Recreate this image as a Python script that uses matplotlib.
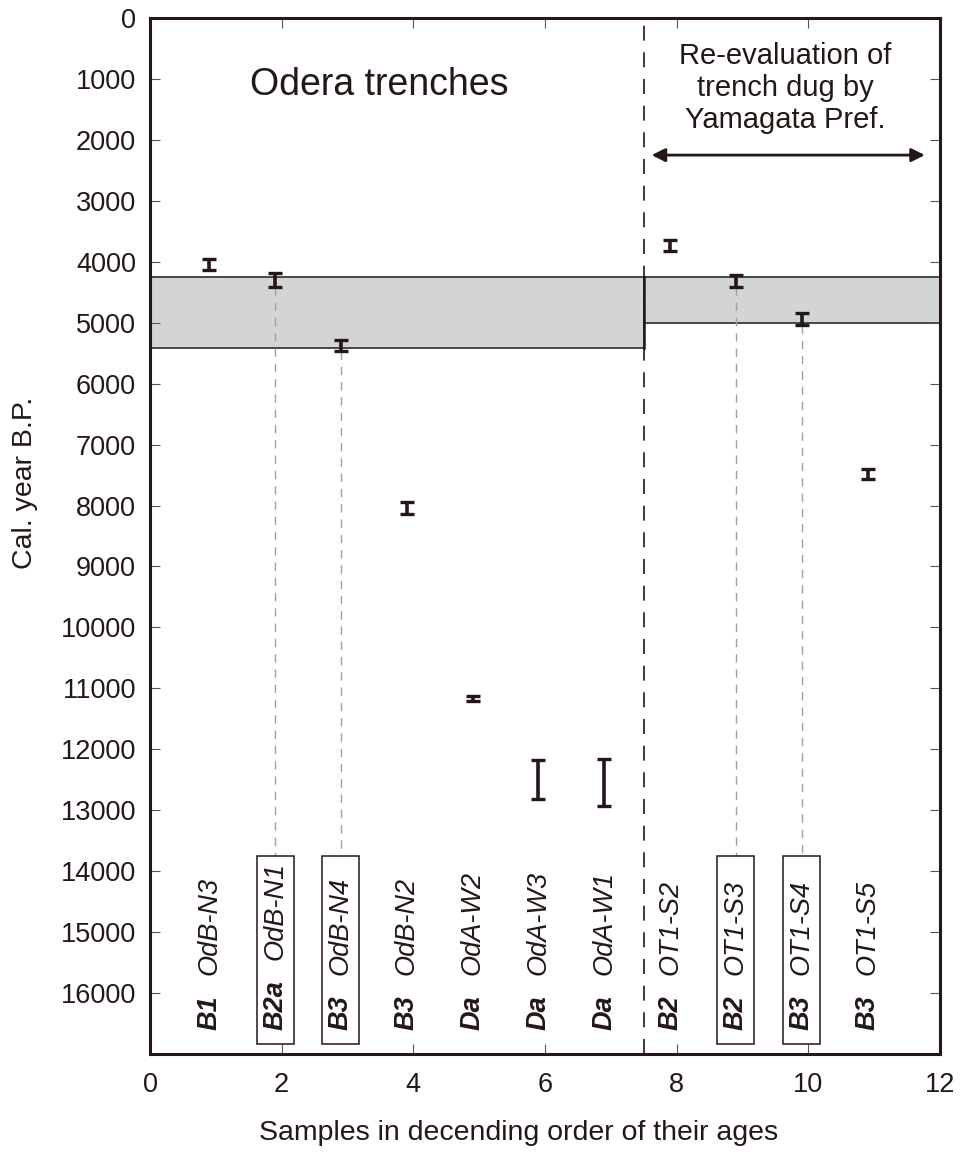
#Plots the calibrated radiocarbon ages of the Odera trench samples with the gray age bands

#region IMPORTING REQUIRED LIBRARIES

import numpy as np;
import matplotlib;
matplotlib.use("Agg");
import matplotlib.pyplot as plt;
from matplotlib.patches import Rectangle;

#endregion

#region DATA

samplePos = [0.9, 1.9, 2.9, 3.9, 4.9, 5.9, 6.9, 7.9, 8.9, 9.9, 10.9]; #Sample positions on the x axis
calAges = [4050, 4300, 5375, 8040, 11170, 12490, 12545, 3740, 4310, 4940, 7488]; #Cal. year B.P.
ageErrs = [88, 110, 88, 105, 42, 320, 380, 90, 100, 100, 80]; #Half width of the error bars
units = ["B1", "B2a", "B3", "B3", "Da", "Da", "Da", "B2", "B2", "B3", "B3"];
sampleNames = ["OdB-N3", "OdB-N1", "OdB-N4", "OdB-N2", "OdA-W2", "OdA-W3", "OdA-W1",
               "OT1-S2", "OT1-S3", "OT1-S4", "OT1-S5"];
boxed = [False, True, True, False, False, False, False, False, True, True, False]; #Samples linked to the bands
bandX = [(0, 7.5), (7.5, 12)]; #x ranges of the gray bands
bandY = [(4250, 5420), (4250, 5000)]; #Age ranges of the gray bands
splitX = 7.5; #Odera trenches / Yamagata Pref. trench split

#endregion

#region FIGURE SETUP

plt.rcParams["font.family"] = ["Liberation Sans", "DejaVu Sans"];
dark = "#231815";
fig = plt.figure(figsize=(9.6, 11.6), dpi=100);
ax = fig.add_axes([0.15625, 0.0914, 0.8229, 0.8931]);
ax.set_xlim(0, 12);
ax.set_ylim(17000, 0);
ax.set_xticks(np.arange(0, 13, 2));
ax.set_yticks(np.arange(0, 16001, 1000));
ax.tick_params(direction="in", length=7, width=0.8, color="#555555", labelsize=19.5, labelcolor=dark,
               top=True, right=True);
ax.tick_params(axis="x", pad=13);
ax.tick_params(axis="y", pad=10);
for spine in ax.spines.values():
    spine.set_linewidth(2.2);
    spine.set_color(dark);

#endregion

#region BANDS AND SPLIT LINE

for (x0, x1), (y0, y1) in zip(bandX, bandY):
    ax.add_patch(Rectangle((x0, y0), x1 - x0, y1 - y0, facecolor="#d3d5d4", edgecolor="#3a3a3a", linewidth=1.3, zorder=1));
ax.plot([splitX, splitX], [bandY[0][0], bandY[0][1]], color=dark, linewidth=1.8, zorder=2);
ax.axvline(splitX, color=dark, linewidth=1.2, linestyle=(0, (9, 7)), zorder=2);

#endregion

#region ERROR BARS, LINKS AND LABELS

ax.errorbar(samplePos, calAges, yerr=ageErrs, fmt="none", ecolor=dark, elinewidth=2.6, capsize=4.8, capthick=2.4, zorder=4);

boxTop, boxBottom, boxHalf = 13755, 16830, 0.28;
labelBottom = 16600;
fig.canvas.draw();
renderer = fig.canvas.get_renderer();
for x, age, err, unit, name, isBoxed in zip(samplePos, calAges, ageErrs, units, sampleNames, boxed):
    if isBoxed: #Draw the link line and the box around the label
        ax.plot([x, x], [age + err, boxTop], color="#a0a0a0", linewidth=1.0, linestyle=(0, (6, 5)), zorder=3);
        ax.add_patch(Rectangle((x - boxHalf, boxTop), 2 * boxHalf, boxBottom - boxTop, facecolor="none", edgecolor=dark, linewidth=1.1, zorder=3));
    t1 = ax.text(x, labelBottom, unit, rotation=90, ha="center", va="bottom", fontsize=19.5, fontweight="bold", style="italic", color=dark, zorder=5);
    bb = t1.get_window_extent(renderer);
    ax.annotate(name, xy=(x, labelBottom), xycoords="data", xytext=(0, bb.height + 20), textcoords="offset pixels",
                rotation=90, ha="center", va="bottom", fontsize=19.5, style="italic", color=dark, zorder=5);

#endregion

#region TITLES AND ANNOTATIONS

ax.text(3.48, 1100, "Odera trenches", ha="center", va="center", fontsize=27, color=dark);
ax.text(9.65, 1150, "Re-evaluation of\ntrench dug by\nYamagata Pref.", ha="center", va="center", fontsize=21,
        color=dark, linespacing=1.2);
ax.annotate("", xy=(7.62, 2250), xytext=(11.77, 2250),
            arrowprops=dict(arrowstyle="<|-|>", color=dark, linewidth=2.0, mutation_scale=20, shrinkA=0, shrinkB=0));
ax.set_ylabel("Cal. year B.P.", fontsize=20.5, color=dark);
ax.yaxis.set_label_coords(-0.142, 0.551);
ax.set_xlabel("Samples in decending order of their ages", fontsize=20.5, color=dark);
ax.xaxis.set_label_coords(0.467, -0.064);

#endregion

fig.savefig("out.png", dpi=100);
